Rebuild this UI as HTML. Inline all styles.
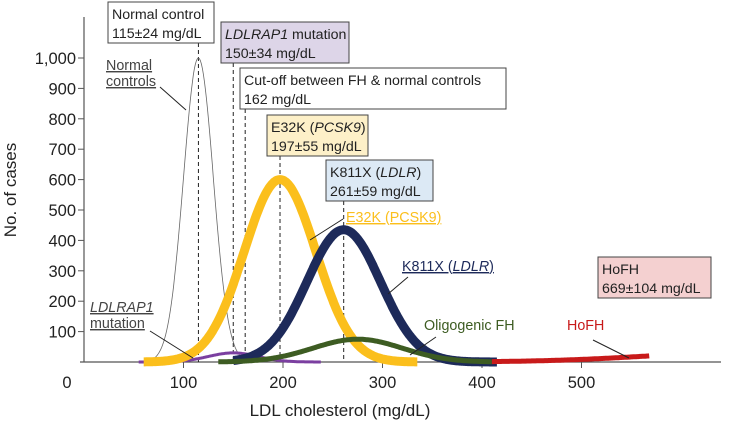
<!DOCTYPE html>
<html><head><meta charset="utf-8"><style>
body{margin:0;background:#fff}
svg{font-family:"Liberation Sans",sans-serif;display:block}
</style></head><body>
<svg id="chart" width="737" height="421">
<g id="axes"></g>
<g id="curves"></g>
<g id="annot"></g>
</svg>
<script>
const curveNames=["normal","ldlrap1","oligogenic","e32k","k811x","hofh"];
const curveMeans=[115,150,275,197,261,669];
const curveSDs=[15,25,45,36,37,104];
const curvePeaks=[1000,30,75,600,435,32];
const curveFrom=[68,55,135,60,150,410];
const curveTo=[165,238,410,335,415,568];
const curveColors=["#666","#7b3fa0","#3d5c22","#fbbf1c","#1d2a5a","#c81a1a"];
const curveWidths=[0.8,3,5,9,9,5];
const xTicks=[100,200,300,400,500];
const yTicks=[100,200,300,400,500,600,700,800,900,1000];
const yTickLabels=["100","200","300","400","500","600","700","800","900","1,000"];
const dashValues=[115,150,162,197,261];
const dashTops=[43,63,109,156,201];

const NS="http://www.w3.org/2000/svg";
const X=v=>84+v*0.995, Y=v=>362-v*0.304;
function mk(tag,attrs,parent,text){const e=document.createElementNS(NS,tag);for(const k in attrs)e.setAttribute(k,attrs[k]);if(text!==undefined)e.textContent=text;parent.appendChild(e);return e;}
const axes=document.getElementById('axes'),curves=document.getElementById('curves'),annot=document.getElementById('annot');

let a=mk('line',{x1:84,y1:17,x2:84,y2:362,stroke:'#555','stroke-width':1.2},axes);

a=mk('line',{x1:80,y1:362,x2:721,y2:362,stroke:'#555','stroke-width':1.2},axes);

yTicks.forEach((v,i)=>{
 let t=mk('line',{x1:78,x2:84,y1:Y(v),y2:Y(v),stroke:'#555'},axes);
 
 let l=mk('text',{x:76,y:Y(v)+6,'text-anchor':'end','font-size':16.5,fill:'#222'},axes,yTickLabels[i]);
 
});
xTicks.forEach(v=>{
 let t=mk('line',{x1:X(v),x2:X(v),y1:362,y2:368,stroke:'#555'},axes);
 
 let l=mk('text',{x:X(v),y:388,'text-anchor':'middle','font-size':16.5,fill:'#222'},axes,String(v));
 
});
a=mk('text',{x:67,y:388,'text-anchor':'middle','font-size':16.5,fill:'#222'},axes,'0');

a=mk('text',{x:340,y:416,'text-anchor':'middle','font-size':17,fill:'#222'},axes,'LDL cholesterol (mg/dL)');

a=mk('text',{x:0,y:0,'text-anchor':'middle','font-size':17,fill:'#222',transform:'translate(16,190) rotate(-90)'},axes,'No. of cases');


dashValues.forEach((v,i)=>{
 let d=mk('line',{x1:X(v),x2:X(v),y1:dashTops[i],y2:362,stroke:'#222','stroke-dasharray':'4,3','stroke-width':1},curves);
 
});
const order=[0,1,3,4,2,5];
order.forEach(i=>{
 let pts=[];
 for(let v=curveFrom[i];v<=curveTo[i];v+=1){const z=(v-curveMeans[i])/curveSDs[i];pts.push(X(v).toFixed(1)+','+Y(curvePeaks[i]*Math.exp(-0.5*z*z)).toFixed(1));}
 let p=mk('polyline',{points:pts.join(' '),fill:'none',stroke:curveColors[i],'stroke-width':curveWidths[i],'stroke-linecap':'butt','stroke-linejoin':'round'},curves);
 
});

function box(x,y,w,h,fill,lines,name){
 const g=mk('g',{},annot);
 
 mk('rect',{x:x,y:y,width:w,height:h,fill:fill,stroke:'#444','stroke-width':1},g);
 lines.forEach((ln,i)=>{const t=mk('text',{x:x+4,y:y+17+i*19,'font-size':14.2,fill:'#222'},g);t.innerHTML=ln;});
}
box(108,2,106,41,'#fff',['Normal control','115±24 mg/dL'],'normal-control-box');
box(221,22,128,41,'#ddd5e8',['<tspan font-style="italic">LDLRAP1</tspan> mutation','150±34 mg/dL'],'ldlrap1-box');
box(240,68,266,41,'#fff',['Cut-off between FH &amp; normal controls','162 mg/dL'],'cutoff-box');
box(267,115,101,41,'#fdf0c8',['E32K (<tspan font-style="italic">PCSK9</tspan>)','197±55 mg/dL'],'e32k-box');
box(326,160,107,41,'#dce9f5',['K811X (<tspan font-style="italic">LDLR</tspan>)','261±59 mg/dL'],'k811x-box');
box(598,257,113,41,'#f4d0d0',['HoFH','669±104 mg/dL'],'hofh-box');

function label(x,y,lines,color,under,lx1,ly1,lx2,ly2,name){
 const g=mk('g',{},annot);
 
 lines.forEach((ln,i)=>{const t=mk('text',{x:x,y:y+i*16,'font-size':14.3,fill:color,'text-decoration':under?'underline':'none'},g);t.innerHTML=ln;});
 mk('line',{x1:lx1,y1:ly1,x2:lx2,y2:ly2,stroke:'#222','stroke-width':1},g);
}
label(106,70,['Normal','controls'],'#444',true,160,87,186,110,'normal-controls-label');
label(90,312,['<tspan font-style="italic">LDLRAP1</tspan>','mutation'],'#444',true,150,331,193,358,'ldlrap1-label');
label(346,222,['E32K (PCSK9)'],'#fbbf1c',true,343,219,310,240,'e32k-label');
label(402,271,['K811X (<tspan font-style="italic">LDLR</tspan>)'],'#1d2a5a',true,408,277,388,294,'k811x-label');
label(424,330,['Oligogenic FH'],'#3d5c22',false,436,337,410,355,'oligogenic-label');
label(567,330,['HoFH'],'#c81a1a',false,593,340,629,358,'hofh-label');
</script>
</body></html>
